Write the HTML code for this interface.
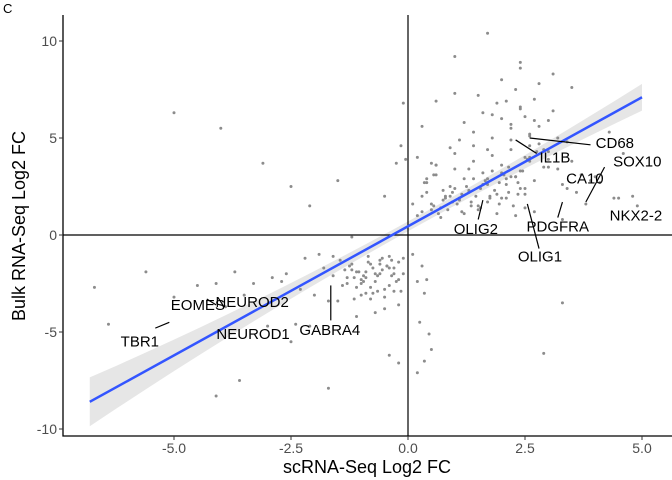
<!DOCTYPE html>
<html><head><meta charset="utf-8"><style>
body{margin:0;background:#fff;}
svg{display:block;font-family:"Liberation Sans",sans-serif;}
</style></head><body>
<svg id="chart" width="672" height="480" viewBox="0 0 672 480">
<text x="3" y="13" font-size="13">C</text>
<g id="plot"></g>
<text x="367" y="473" font-size="18" text-anchor="middle" fill="#000">scRNA-Seq Log2 FC</text>
<text transform="translate(25,226) rotate(-90)" font-size="18" text-anchor="middle" fill="#000">Bulk RNA-Seq Log2 FC</text>
</svg>
<script>
const xTicks=[-5,-2.5,0,2.5,5];
const xTickLabels=["-5.0","-2.5","0.0","2.5","5.0"];
const yTicks=[-10,-5,0,5,10];
const yTickLabels=["-10","-5","0","5","10"];
const fitLine=[[-6.8,-8.6],[5,7.1]];
const ptsX=[0.3,0.5,0.7,0.9,1.1,1.3,1.5,1.7,1.9,2.1,2.3,2.5,2.7,0.4,0.6,0.8,1.0,1.2,1.4,1.6,1.8,2.0,2.2,2.4,2.6,2.8,3.0,0.2,0.5,0.9,1.3,1.7,2.1,2.5,2.9,3.3,0.6,1.0,1.4,1.8,2.2,2.6,3.0,3.4,1.2,1.6,2.0,2.4,2.8,3.2,1.5,1.9,2.3,2.7,3.1,2.0,2.4,2.8,2.2,2.6,3.0,1.1,1.5,0.7,1.9,2.3,2.5,3.6,3.8,4.0,4.3,4.6,4.9,3.5,3.9,4.5,0.1,0.3,-0.1,1.0,2.4,3.1,2.7,3.3,1.7,-1.5,-2.5,-3.1,-4.0,-5.0,-6.7,-1.2,-0.5,0.4,-2.1,4.8,
-0.2,-0.4,-0.6,-0.8,-1.0,-1.2,-1.4,-0.3,-0.5,-0.7,-0.9,-1.1,-1.3,-1.5,-0.1,-0.3,-0.6,-0.9,-1.2,-1.6,-0.2,-0.5,-0.8,-1.1,-0.4,-0.7,-1.0,0.1,0.3,0.4,-1.8,-2.0,-2.3,-2.6,-2.9,-3.3,-3.7,-4.1,-4.5,-5.0,-5.6,-6.4,-1.7,-2.1,-2.5,-0.2,-0.4,-1.7,-4.1,-3.0,-2.4,0.5,0.2,-3.6,2.9,3.3,
0.25,0.35,0.45,0.55,0.65,0.75,0.85,0.95,1.05,1.15,1.25,1.35,1.45,1.55,1.65,1.75,1.85,1.95,2.05,2.15,2.25,2.35,2.45,0.3,0.4,0.6,0.8,1.0,1.2,1.4,1.6,1.8,2.0,2.2,2.4,2.6,0.35,0.55,0.75,0.95,1.15,1.35,1.55,1.75,1.95,2.15,2.35,2.55,2.75,0.5,0.9,1.3,1.7,2.1,2.5,2.9,1.1,1.4,1.7,2.0,2.3,2.6,1.8,2.2,2.5,2.1,2.4,2.7,3.2,3.5,3.7,4.1,4.4,3.0,3.4,0.2,0.6,1.0,
-0.05,-0.15,-0.25,-0.35,-0.45,-0.55,-0.65,-0.75,-0.85,-0.95,-1.05,-1.15,-1.25,-1.35,-0.1,-0.2,-0.3,-0.4,-0.5,-0.6,-0.7,-0.8,-0.9,-1.0,-1.1,-1.3,-1.45,-0.15,-0.35,-0.55,-0.75,-0.95,-1.15,-0.25,-0.45,-0.65,-0.85,-1.9,-2.2,-1.6,-2.7,-3.5,-3.9,0.2,0.35];
const ptsY=[1.2,1.6,1.4,2.0,1.8,2.3,1.5,2.6,2.1,1.9,3.0,2.4,2.8,2.7,3.1,1.9,3.4,2.9,3.8,3.2,4.1,3.6,4.4,3.3,4.0,4.7,3.9,1.0,1.3,2.5,2.2,1.7,2.9,2.1,3.5,2.6,3.6,4.2,4.6,5.0,5.5,5.2,4.3,4.8,5.8,6.3,6.0,6.6,5.6,5.0,7.2,6.8,7.5,7.0,6.4,8.0,8.6,7.8,4.9,4.6,5.9,1.9,1.3,0.9,1.1,1.0,1.4,2.2,1.6,3.0,5.3,4.2,1.5,7.6,2.8,1.9,1.6,5.6,6.8,9.2,8.9,8.3,1.2,0.8,10.4,2.8,2.5,3.7,5.5,6.3,-2.7,-0.1,2.0,2.2,1.5,2.0,
-1.4,-1.7,-2.0,-1.5,-2.3,-1.8,-2.6,-2.9,-3.2,-2.4,-3.0,-2.7,-2.2,-3.4,-1.2,-2.0,-1.3,-1.9,-1.5,-2.1,-3.6,-3.8,-3.3,-4.2,-1.1,-4.0,-2.5,-1.0,-1.6,-2.3,-1.7,-3.1,-2.8,-2.0,-2.2,-2.5,-1.9,-2.5,-2.6,-3.2,-1.9,-4.6,-3.4,-4.7,-5.5,-6.6,-6.2,-7.9,-8.3,-4.7,-4.6,-5.9,-7.1,-7.5,-6.1,-3.5,-4.5,-6.5,-5.1,
1.5,1.1,1.8,1.3,2.2,1.6,1.2,2.5,1.7,2.0,1.4,2.8,1.9,2.3,1.6,3.1,2.2,1.5,2.7,3.3,2.0,2.9,3.6,2.0,2.4,1.1,2.9,2.6,3.3,1.9,3.0,2.4,3.8,2.7,3.1,2.3,1.7,2.1,1.5,2.4,2.0,2.7,3.5,2.1,3.9,4.3,3.7,4.5,3.4,2.9,2.6,4.0,4.4,4.9,5.3,4.4,3.2,3.0,5.1,6.2,5.7,6.1,6.9,6.5,5.9,3.4,3.8,3.1,2.7,1.9,3.5,2.4,4.0,6.9,7.3,3.9,4.6,3.7,
-1.3,-1.6,-1.2,-2.1,-1.7,-1.4,-2.4,-1.9,-2.2,-1.6,-1.8,-2.0,-2.3,-1.7,-2.6,-2.8,-1.5,-2.0,-2.7,-2.2,-3.1,-1.9,-2.5,-1.3,-2.9,-2.1,-1.8,-3.0,-2.1,-3.3,-2.4,-1.6,-2.9,-1.1,-1.0,-1.2,-1.1,-2.4,-3.1,-3.7,-2.4,-3.0,-5.7,-0.9,-1.4];
const annotations=[
 {t:"CD68",x:4.42,y:4.75,lx1:2.6,ly1:5.0,lx2:3.9,ly2:4.65},
 {t:"IL1B",x:3.14,y:4.0,lx1:2.3,ly1:4.9,lx2:2.75,ly2:4.2},
 {t:"SOX10",x:4.9,y:3.8,lx1:3.8,ly1:1.7,lx2:4.2,ly2:3.5},
 {t:"CA10",x:3.78,y:2.9},
 {t:"PDGFRA",x:3.2,y:0.45,lx1:3.3,ly1:1.7,lx2:3.2,ly2:0.9},
 {t:"NKX2-2",x:4.87,y:1.0},
 {t:"OLIG2",x:1.45,y:0.3,lx1:1.6,ly1:1.8,lx2:1.5,ly2:0.8},
 {t:"OLIG1",x:2.82,y:-1.1,lx1:2.55,ly1:1.6,lx2:2.8,ly2:-0.7},
 {t:"EOMES",x:-4.49,y:-3.6},
 {t:"NEUROD2",x:-3.33,y:-3.45,lx1:-4.1,ly1:-3.6,lx2:-4.3,ly2:-3.3},
 {t:"NEUROD1",x:-3.31,y:-5.1},
 {t:"TBR1",x:-5.73,y:-5.5,lx1:-5.4,ly1:-4.8,lx2:-5.1,ly2:-4.5},
 {t:"GABRA4",x:-1.67,y:-4.9,lx1:-1.65,ly1:-2.6,lx2:-1.65,ly2:-4.4}
];
const L=63,R=672,T=15,B=436;
const sx=v=>408+v*46.8, sy=v=>235-v*19.4;
const ns="http://www.w3.org/2000/svg";
const g=document.getElementById('plot');
function mk(tag,a){const e=document.createElementNS(ns,tag);for(const k in a)e.setAttribute(k,a[k]);g.appendChild(e);return e;}
const bx1=fitLine[0][0],bx2=fitLine[1][0];
const ly=x=>fitLine[0][1]+(x-bx1)*(fitLine[1][1]-fitLine[0][1])/(bx2-bx1);
let up=[],dn=[];
for(let i=0;i<=20;i++){const x=bx1+(bx2-bx1)*i/20;const w=0.25+0.02*Math.pow(x-0.3,2);up.push(sx(x)+","+sy(ly(x)+w));dn.unshift(sx(x)+","+sy(ly(x)-w));}
let band=mk('polygon',{points:up.concat(dn).join(' '),fill:'#e6e6e6'});


let h=mk('line',{x1:L,x2:R,y1:sy(0),y2:sy(0),stroke:'#000','stroke-width':1.2});


let v=mk('line',{x1:sx(0),x2:sx(0),y1:T,y2:B,stroke:'#000','stroke-width':1.2});


for(let i=0;i<ptsX.length;i++){
 const c=mk('circle',{cx:sx(ptsX[i]),cy:sy(ptsY[i]),r:1.5,fill:'#8c8c8c'});
 
 
}
let fl=mk('line',{x1:sx(fitLine[0][0]),y1:sy(fitLine[0][1]),x2:sx(fitLine[1][0]),y2:sy(fitLine[1][1]),stroke:'#3355ff','stroke-width':2.5});


annotations.forEach(a=>{
 if(a.lx1!==undefined){const s=mk('line',{x1:sx(a.lx1),y1:sy(a.ly1),x2:sx(a.lx2),y2:sy(a.ly2),stroke:'#000','stroke-width':1.2});
 
 }
 const t=mk('text',{x:sx(a.x),y:sy(a.y)+5,'font-size':15,'text-anchor':'middle',fill:'#000'});
 t.textContent=a.t;
 
 
});
let ax=mk('polyline',{points:`${L},${T} ${L},${B} ${R},${B}`,fill:'none',stroke:'#000','stroke-width':1.3});


xTicks.forEach((t,i)=>{
 mk('line',{x1:sx(t),x2:sx(t),y1:B,y2:B+4,stroke:'#333'});
 const e=mk('text',{x:sx(t),y:B+17,'font-size':14,'text-anchor':'middle',fill:'#4d4d4d'});
 e.textContent=xTickLabels[i];
 
 
});
yTicks.forEach((t,i)=>{
 mk('line',{x1:L-4,x2:L,y1:sy(t),y2:sy(t),stroke:'#333'});
 const e=mk('text',{x:L-6,y:sy(t)+5,'font-size':14,'text-anchor':'end',fill:'#4d4d4d'});
 e.textContent=yTickLabels[i];
 
 
});
</script>
</body></html>
